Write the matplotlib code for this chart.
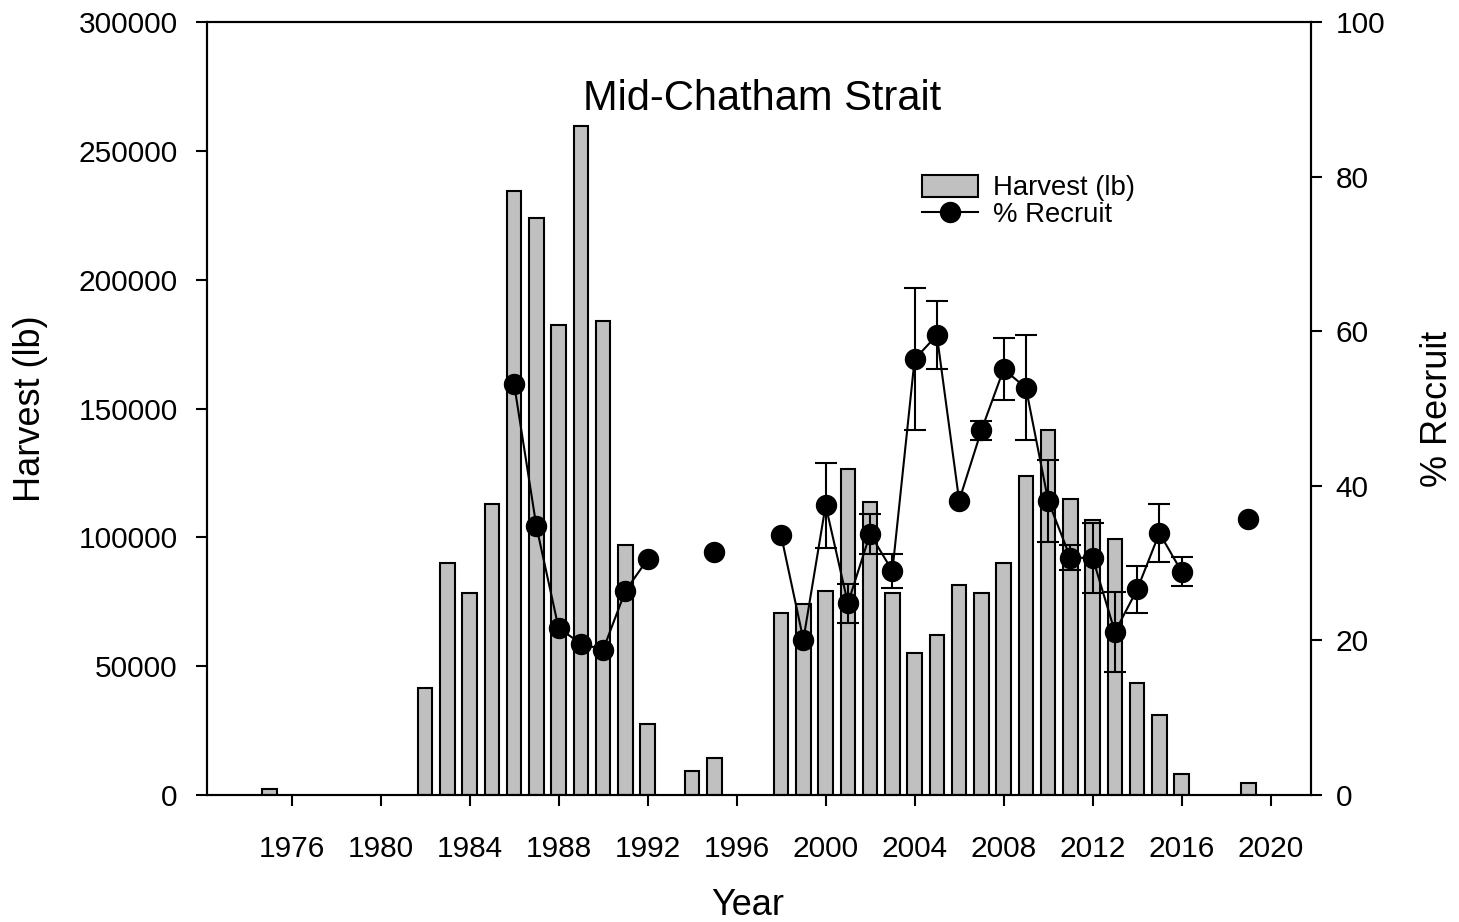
import numpy as np
import matplotlib
matplotlib.use("Agg")
import matplotlib.pyplot as plt
from matplotlib.patches import Patch
from matplotlib.lines import Line2D

plt.rcParams['font.family'] = ['Liberation Sans', 'DejaVu Sans']

# ---- data ----
harvest_years = [1975, 1982, 1983, 1984, 1985, 1986, 1987, 1988, 1989, 1990, 1991, 1992,
                 1994, 1995, 1998, 1999, 2000, 2001, 2002, 2003, 2004, 2005, 2006, 2007,
                 2008, 2009, 2010, 2011, 2012, 2013, 2014, 2015, 2016, 2019]
harvest_lb = [2200, 41400, 89900, 78500, 112800, 234500, 223900, 182300, 259800, 184100,
              97200, 27600, 9300, 14400, 70700, 74000, 79200, 126600, 113600, 78400,
              55200, 62000, 81500, 78400, 89900, 123800, 141700, 114900, 106800, 99300,
              43600, 31100, 8200, 4500]

recruit_years = [1986, 1987, 1988, 1989, 1990, 1991, 1992, 1993, 1994, 1995, 1996, 1997,
                 1998, 1999, 2000, 2001, 2002, 2003, 2004, 2005, 2006, 2007, 2008, 2009,
                 2010, 2011, 2012, 2013, 2014, 2015, 2016, 2017, 2018, 2019]
nan = np.nan
recruit_pct = [53.2, 34.8, 21.6, 19.6, 18.8, 26.4, 30.5, nan, nan, 31.4, nan, nan,
               33.6, 20.1, 37.5, 24.8, 33.8, 29.0, 56.4, 59.5, 38.1, 47.2, 55.1, 52.7,
               38.1, 30.7, 30.7, 21.1, 26.6, 33.9, 28.9, nan, nan, 35.7]
recruit_err = [nan, nan, nan, nan, nan, nan, nan, nan, nan, nan, nan, nan,
               nan, nan, 5.5, 2.5, 2.6, 2.2, 9.2, 4.4, nan, 1.2, 4.0, 6.8,
               5.3, 1.6, 4.5, 5.15, 3.0, 3.8, 1.9, nan, nan, nan]

x_ticks = list(range(1976, 2021, 4))
y_ticks = [0, 50000, 100000, 150000, 200000, 250000, 300000]
y2_ticks = [0, 20, 40, 60, 80, 100]

# ---- figure ----
fig = plt.figure(figsize=(14.59, 9.22), dpi=100)
ax = fig.add_axes([0.14188, 0.13774, 0.7565, 0.83807])

ax.bar(harvest_years, harvest_lb, width=0.65, color='#c0c0c0', edgecolor='black',
       linewidth=1.5, zorder=2)
ax.set_xlim(1972.2, 2021.8)
ax.set_ylim(0, 300000)
ax.set_xticks(x_ticks)
ax.set_xticklabels([str(t) for t in x_ticks])
ax.set_yticks(y_ticks)
ax.set_yticklabels([str(t) for t in y_ticks])
ax.tick_params(axis='both', direction='out', length=8, width=1.5, labelsize=21.5)
ax.tick_params(axis='x', pad=20.5)
ax.tick_params(axis='y', pad=13)
for s in ax.spines.values():
    s.set_linewidth(1.5)

ax.set_xlabel('Year', fontsize=26)
ax.xaxis.set_label_coords(0.49, -0.120)
ax.set_ylabel('Harvest (lb)', fontsize=26)
ax.yaxis.set_label_coords(-0.144, 0.5)

ax2 = ax.twinx()
ry = np.array(recruit_years, dtype=float)
rp = np.array(recruit_pct, dtype=float)
re = np.array(recruit_err, dtype=float)
m = ~np.isnan(re)
ax2.errorbar(ry[m], rp[m], yerr=re[m], fmt='none', ecolor='black', elinewidth=1.5,
             capsize=8, capthick=1.5, zorder=3)
ax2.plot(ry, rp, color='black', linewidth=1.5, marker='o', markersize=14.4, zorder=4)
ax2.set_ylim(0, 100)
ax2.set_yticks(y2_ticks)
ax2.set_yticklabels([str(t) for t in y2_ticks])
ax2.tick_params(axis='y', direction='out', length=8, width=1.5, labelsize=21.5, pad=10)
for s in ax2.spines.values():
    s.set_linewidth(1.5)
ax2.set_ylabel('% Recruit', fontsize=26)
ax2.yaxis.set_label_coords(1.099, 0.5)

ax.text(0.503, 0.901, 'Mid-Chatham Strait', transform=ax.transAxes, fontsize=30,
        ha='center', va='center')

handles = [Patch(facecolor='#c0c0c0', edgecolor='black', linewidth=1.5),
           Line2D([], [], color='black', linewidth=1.5, marker='o', markersize=14.4)]
ax2.legend(handles, ['Harvest (lb)', '% Recruit'], loc='upper left',
           bbox_to_anchor=(0.6478, 0.8025), frameon=False, fontsize=19.8,
           borderpad=0, labelspacing=0.0, handlelength=2.04, handleheight=0.84,
           handletextpad=0.55, borderaxespad=0)

fig.savefig('out.png', dpi=100)
